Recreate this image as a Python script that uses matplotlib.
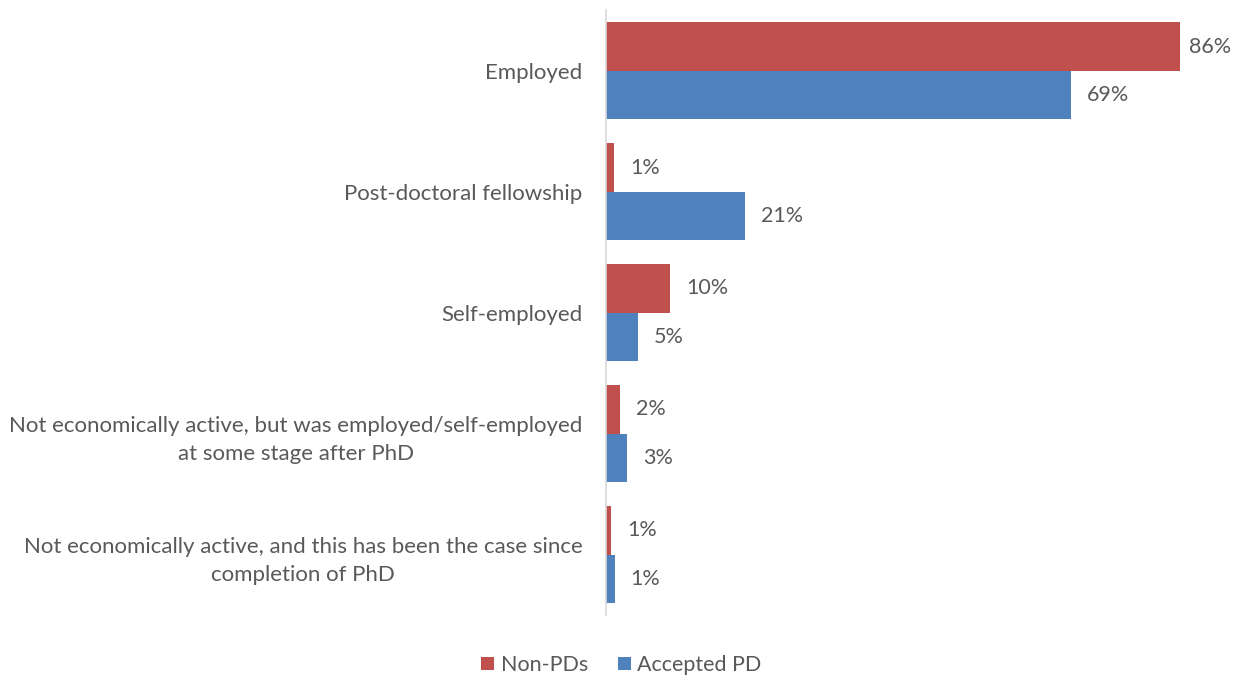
import matplotlib
matplotlib.use("Agg")
import matplotlib.pyplot as plt
import numpy as np

categories = [
    "Employed",
    "Post-doctoral fellowship",
    "Self-employed",
    "Not economically active, but was employed/self-employed\nat some stage after PhD",
    "Not economically active, and this has been the case since\ncompletion of PhD",
]
non_pds = [85.6, 1.2, 9.6, 2.1, 0.8]
accepted_pd = [69.3, 20.8, 4.7, 3.2, 1.3]
series_names = ["Non-PDs", "Accepted PD"]
colors = ["#C0504D", "#4F81BD"]
text_color = "#595959"

plt.rcParams["font.family"] = ["Lato", "DejaVu Sans"]

fig = plt.figure(figsize=(12.38, 6.82), dpi=100)
ax = fig.add_axes([0.4895, 0.098, 0.4875, 0.887])

y = np.arange(len(categories))
h = 0.4
bars1 = ax.barh(y - h / 2, non_pds, height=h, color=colors[0], label=series_names[0])
bars2 = ax.barh(y + h / 2, accepted_pd, height=h, color=colors[1], label=series_names[1])

for bars, vals in [(bars1, non_pds), (bars2, accepted_pd)]:
    for b, v in zip(bars, vals):
        # the longest bar's label is squeezed in next to the edge
        off = 6.5 if v > 80 else 11.5
        ax.annotate(f"{v:.0f}%", (v, b.get_y() + b.get_height() / 2),
                    xytext=(off, 0), textcoords="offset points",
                    ha="left", va="center", fontsize=15.5, color=text_color)

ax.set_xlim(0, 90)
ax.set_ylim(len(categories) - 0.5, -0.5)
ax.set_yticks(y)
ax.set_yticklabels(categories, fontsize=16, color=text_color,
                   multialignment="center", linespacing=1.55)
ax.tick_params(axis="y", length=0, pad=17)
ax.set_xticks([])
for s in ["top", "right", "bottom"]:
    ax.spines[s].set_visible(False)
ax.spines["left"].set_color("#D9D9D9")
ax.spines["left"].set_linewidth(1.2)

leg = fig.legend(loc="center", bbox_to_anchor=(0.502, 0.025), ncol=2, frameon=False,
                 fontsize=15.5, handlelength=0.6, handleheight=0.6, handletextpad=0.3,
                 columnspacing=1.4)
for t in leg.get_texts():
    t.set_color(text_color)

fig.savefig("out.png", dpi=100)
